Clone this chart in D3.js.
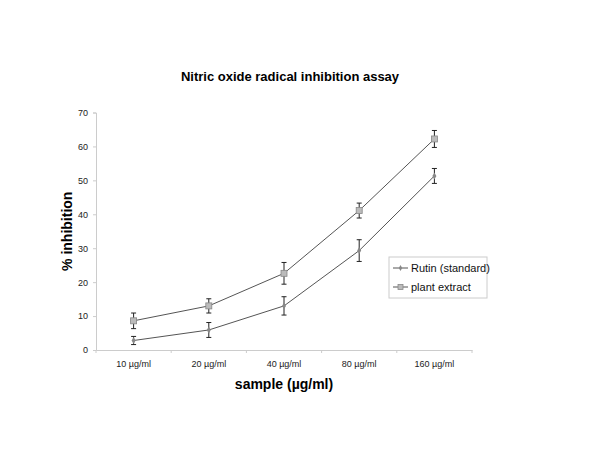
<!DOCTYPE html>
<html>
<head>
<meta charset="utf-8">
<title>Nitric oxide radical inhibition assay</title>
<style>
  body { margin: 0; background: #fff; }
  svg { font-family: "Liberation Sans", Arial, Helvetica, sans-serif; }
</style>
</head>
<body>
<div id="chart"></div>
<script src="https://cdn.jsdelivr.net/npm/d3@7/dist/d3.min.js"></script>
<script>
// data
var categories = ["10 µg/ml", "20 µg/ml", "40 µg/ml", "80 µg/ml", "160 µg/ml"];
var rutin = [2.8, 5.9, 13.0, 29.3, 51.3];
var rutinErr = [1.2, 2.2, 2.7, 3.2, 2.2];
var extract = [8.6, 13.0, 22.6, 41.1, 62.2];
var extractErr = [2.3, 2.1, 3.2, 2.2, 2.5];
var yTicks = [0, 10, 20, 30, 40, 50, 60, 70];

var w = 600, h = 464;
var plotLeft = 96, plotRight = 472, plotTop = 112.5, plotBottom = 350;

var svg = d3.select("#chart").append("svg")
  .attr("width", w).attr("height", h);

var x = d3.scaleBand().domain(categories).range([plotLeft, plotRight]);
var y = d3.scaleLinear().domain([0, 70]).range([plotBottom, plotTop]);

// title
svg.append("text")
  .attr("x", 290).attr("y", 81)
  .attr("text-anchor", "middle")
  .style("font-size", "13px").style("font-weight", "bold")
  .text("Nitric oxide radical inhibition assay");

// y axis
var yAxis = svg.append("g")
  .attr("transform", "translate(" + plotLeft + ",0)")
  .call(d3.axisLeft(y).tickValues(yTicks).tickSize(3).tickPadding(5));
yAxis.select(".domain").attr("stroke", "#ccc");
yAxis.selectAll(".tick line").attr("stroke", "#ccc");
yAxis.selectAll("text").style("font-size", "9px").attr("fill", "#222");

// x axis
var xAxis = svg.append("g")
  .attr("transform", "translate(0," + plotBottom + ")")
  .call(d3.axisBottom(x).tickSize(0).tickPadding(11));
xAxis.select(".domain").attr("stroke", "#ccc");
xAxis.selectAll("text").style("font-size", "9px").attr("fill", "#222");
// tick marks on band edges
xAxis.selectAll(".edge")
  .data(categories.concat([null]))
  .enter().append("line")
  .attr("class", "edge")
  .attr("x1", function(d, i) { return plotLeft + x.step() * i; })
  .attr("x2", function(d, i) { return plotLeft + x.step() * i; })
  .attr("y1", 0).attr("y2", 3)
  .attr("stroke", "#ccc");

// axis titles
svg.append("text")
  .attr("transform", "translate(72," + ((plotTop + plotBottom) / 2) + ") rotate(-90)")
  .attr("text-anchor", "middle")
  .style("font-size", "14px").style("font-weight", "bold")
  .text("% inhibition");

svg.append("text")
  .attr("x", (plotLeft + plotRight) / 2).attr("y", 389)
  .attr("text-anchor", "middle")
  .style("font-size", "14px").style("font-weight", "bold")
  .text("sample (µg/ml)");

var cx = function(d, i) { return x(categories[i]) + x.bandwidth() / 2; };

function drawSeries(vals, errs, shape) {
  var g = svg.append("g");
  var line = d3.line()
    .x(function(d, i) { return cx(d, i); })
    .y(function(d) { return y(d); });
  g.append("path")
    .datum(vals)
    .attr("d", line)
    .attr("fill", "none")
    .attr("stroke", "#555")
    .attr("stroke-width", 1);

  // error bars
  var eb = g.selectAll(".err").data(vals).enter().append("g");
  eb.append("line")
    .attr("x1", cx).attr("x2", cx)
    .attr("y1", function(d, i) { return y(d - errs[i]); })
    .attr("y2", function(d, i) { return y(d + errs[i]); })
    .attr("stroke", "#222").attr("stroke-width", 1);
  [1, -1].forEach(function(s) {
    eb.append("line")
      .attr("x1", function(d, i) { return cx(d, i) - 2.5; })
      .attr("x2", function(d, i) { return cx(d, i) + 2.5; })
      .attr("y1", function(d, i) { return y(d + s * errs[i]); })
      .attr("y2", function(d, i) { return y(d + s * errs[i]); })
      .attr("stroke", "#222").attr("stroke-width", 1);
  });

  // markers
  if (shape === "square") {
    g.selectAll(".mk").data(vals).enter().append("rect")
      .attr("x", function(d, i) { return cx(d, i) - 3; })
      .attr("y", function(d) { return y(d) - 3; })
      .attr("width", 6).attr("height", 6)
      .attr("fill", "#bbb").attr("stroke", "#888").attr("stroke-width", 0.8);
  } else {
    g.selectAll(".mk").data(vals).enter().append("path")
      .attr("transform", function(d, i) { return "translate(" + cx(d, i) + "," + y(d) + ")"; })
      .attr("d", d3.symbol().type(d3.symbolDiamond).size(14))
      .attr("fill", "#888");
  }
}

drawSeries(rutin, rutinErr, "diamond");
drawSeries(extract, extractErr, "square");

// legend
var lg = svg.append("g").attr("transform", "translate(389,257)");
lg.append("rect")
  .attr("width", 98).attr("height", 41)
  .attr("fill", "#fff").attr("stroke", "#ccc");
var items = [{ name: "Rutin (standard)", shape: "diamond" }, { name: "plant extract", shape: "square" }];
items.forEach(function(it, i) {
  var yy = 11 + i * 19;
  lg.append("line").attr("x1", 4).attr("x2", 19).attr("y1", yy).attr("y2", yy)
    .attr("stroke", "#555");
  if (it.shape === "square") {
    lg.append("rect").attr("x", 9).attr("y", yy - 2.5).attr("width", 5).attr("height", 5)
      .attr("fill", "#bbb").attr("stroke", "#888").attr("stroke-width", 0.8);
  } else {
    lg.append("path").attr("transform", "translate(11.5," + yy + ")")
      .attr("d", d3.symbol().type(d3.symbolDiamond).size(10)).attr("fill", "#888");
  }
  lg.append("text").attr("x", 22).attr("y", yy + 4)
    .style("font-size", "11px").attr("fill", "#111")
    .text(it.name);
});
</script>
</body>
</html>
